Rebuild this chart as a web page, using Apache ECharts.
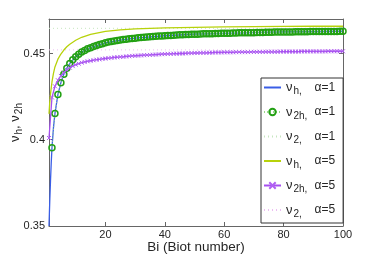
<!DOCTYPE html>
<html>
<head>
<meta charset="utf-8">
<script src="https://cdn.jsdelivr.net/npm/echarts@6/dist/echarts.min.js"></script>
<style>
html,body{margin:0;padding:0;background:#fff;}
#c{width:379px;height:254px;}
</style>
</head>
<body>
<div id="c"></div>
<script>
// ---- data ----
const xTicks = [20, 40, 60, 80, 100];
const yTicks = [0.35, 0.4, 0.45];

// nu_h, alpha = 1 (blue solid line)
const biH1 = [1, 1.25, 1.5, 1.75, 2, 2.5, 3, 4, 5, 6, 7, 8, 10, 12, 15, 20, 25, 30, 40, 50, 60, 70, 80, 90, 100];
const nuH1 = [0.3500, 0.3640, 0.3760, 0.3865, 0.3954, 0.4070, 0.4152, 0.4262, 0.4331, 0.4380, 0.4415, 0.4442, 0.4481, 0.4508, 0.4534, 0.4562, 0.4578, 0.4589, 0.4603, 0.4612, 0.4617, 0.4621, 0.4625, 0.4627, 0.4629];

// nu_2h, alpha = 1 (green circles, Bi = 2..100)
const nu2H1 = [
  0.3954, 0.4152, 0.4262, 0.4331, 0.4380, 0.4415, 0.4442, 0.4464, 0.4481,
  0.4496, 0.4508, 0.4518, 0.4527, 0.4534, 0.4541, 0.4547, 0.4552, 0.4557, 0.4562,
  0.4566, 0.4569, 0.4572, 0.4575, 0.4578, 0.4581, 0.4583, 0.4585, 0.4587, 0.4589,
  0.4591, 0.4593, 0.4594, 0.4596, 0.4597, 0.4599, 0.4600, 0.4601, 0.4602, 0.4603,
  0.4604, 0.4605, 0.4606, 0.4607, 0.4608, 0.4609, 0.4610, 0.4610, 0.4611, 0.4612,
  0.4612, 0.4613, 0.4614, 0.4614, 0.4615, 0.4615, 0.4616, 0.4616, 0.4617, 0.4617,
  0.4618, 0.4618, 0.4619, 0.4619, 0.4620, 0.4620, 0.4620, 0.4621, 0.4621, 0.4621,
  0.4622, 0.4622, 0.4622, 0.4623, 0.4623, 0.4623, 0.4624, 0.4624, 0.4624, 0.4625,
  0.4625, 0.4625, 0.4625, 0.4626, 0.4626, 0.4626, 0.4626, 0.4626, 0.4627, 0.4627,
  0.4627, 0.4627, 0.4628, 0.4628, 0.4628, 0.4628, 0.4628, 0.4628, 0.4629, 0.4629
];
const bi2H1Start = 2;

// nu_2, alpha = 1 and alpha = 5 (horizontal dotted lines)
const biNu2 = [1, 100];
const nu2A1 = [0.4646, 0.4646];
const nu2A5 = [0.4521, 0.4521];

// nu_h, alpha = 5 (yellow-green solid line)
const biH5 = [1, 1.25, 1.5, 2, 2.5, 3, 4, 5, 6, 7, 8, 10, 12, 15, 20, 25, 30, 40, 50, 60, 70, 80, 90, 100];
const nuH5 = [0.4150, 0.4215, 0.4265, 0.4335, 0.4385, 0.4422, 0.4467, 0.4497, 0.4520, 0.4539, 0.4554, 0.4577, 0.4594, 0.4611, 0.4628, 0.4637, 0.4643, 0.4649, 0.4652, 0.4654, 0.4656, 0.4657, 0.4658, 0.4658];

// nu_2h, alpha = 5 (purple with x markers, Bi = 1..100)
const nu2H5 = [
  0.4010, 0.4245, 0.4310, 0.4345, 0.4370, 0.4390, 0.4405, 0.4418, 0.4427, 0.4435,
  0.4441, 0.4447, 0.4451, 0.4455, 0.4458, 0.4461, 0.4464, 0.4466, 0.4469, 0.4471,
  0.4473, 0.4475, 0.4477, 0.4478, 0.4480, 0.4481, 0.4483, 0.4484, 0.4486, 0.4487,
  0.4488, 0.4489, 0.4490, 0.4491, 0.4492, 0.4493, 0.4494, 0.4495, 0.4496, 0.4497,
  0.4498, 0.4498, 0.4499, 0.4499, 0.4500, 0.4500, 0.4501, 0.4502, 0.4502, 0.4503,
  0.4503, 0.4504, 0.4504, 0.4504, 0.4505, 0.4505, 0.4506, 0.4506, 0.4506, 0.4507,
  0.4507, 0.4507, 0.4507, 0.4508, 0.4508, 0.4508, 0.4508, 0.4508, 0.4509, 0.4509,
  0.4509, 0.4509, 0.4509, 0.4510, 0.4510, 0.4510, 0.4510, 0.4510, 0.4511, 0.4511,
  0.4511, 0.4511, 0.4511, 0.4511, 0.4511, 0.4512, 0.4512, 0.4512, 0.4512, 0.4512,
  0.4512, 0.4512, 0.4512, 0.4512, 0.4513, 0.4513, 0.4513, 0.4513, 0.4513, 0.4513
];
const bi2H5Start = 1;

// legend texts
const legendNames = ['vh1', 'v2h1', 'v21', 'vh5', 'v2h5', 'v25'];
const legendSubs = ['h,', '2h,', '2,', 'h,', '2h,', '2,'];
const legendAlpha = ['α=1', 'α=1', 'α=1', 'α=5', 'α=5', 'α=5'];
const legendHasMarker = [false, true, false, false, true, false];

// ---- build ----
const pairs = (xs, ys) => ys.map((y, i) => [xs[i], y]);
const seq = (ys, start) => ys.map((y, i) => [start + i, y]);

const FONT = 'Liberation Sans, Arial, sans-serif';
const TXT = '#262626';
const AX = '#666';

const chart = echarts.init(document.getElementById('c'), null, {renderer: 'canvas'});

const baseAxis = {
  axisLine: {show: true, onZero: false, lineStyle: {color: AX, width: 1}},
  axisTick: {show: true, inside: true, length: 4, lineStyle: {color: AX}},
  splitLine: {show: false},
  axisLabel: {color: TXT, fontSize: 11, fontFamily: FONT}
};

chart.setOption({
  animation: false,
  backgroundColor: '#fff',
  grid: {left: 49, right: 36, top: 19, bottom: 28, outerBoundsMode: 'none'},
  xAxis: [
    Object.assign({}, baseAxis, {
      type: 'value', min: 1, max: 100, position: 'bottom',
      axisTick: Object.assign({}, baseAxis.axisTick, {customValues: xTicks}),
      axisLabel: Object.assign({}, baseAxis.axisLabel, {customValues: xTicks, margin: 3}),
      name: 'Bi (Biot number)', nameLocation: 'middle', nameGap: 14.5, nameMoveOverlap: false,
      nameTextStyle: {color: TXT, fontSize: 13.5, fontFamily: FONT}
    }),
    Object.assign({}, baseAxis, {
      type: 'value', min: 1, max: 100, position: 'top',
      axisTick: Object.assign({}, baseAxis.axisTick, {customValues: xTicks}),
      axisLabel: {show: false}
    })
  ],
  yAxis: [
    Object.assign({}, baseAxis, {
      type: 'value', min: 0.35, max: 0.47, position: 'left',
      axisTick: Object.assign({}, baseAxis.axisTick, {customValues: yTicks}),
      axisLabel: Object.assign({}, baseAxis.axisLabel, {customValues: yTicks, margin: 4}),
      name: '{n|ν}{s|h}{n|, ν}{s|2h}', nameLocation: 'middle', nameGap: 25, nameMoveOverlap: false,
      nameTextStyle: {
        color: TXT, fontFamily: FONT,
        rich: {
          n: {fontSize: 13, fontFamily: FONT, color: TXT},
          s: {fontSize: 10, fontFamily: FONT, color: TXT, padding: [8, 0, 0, 1]}
        }
      }
    }),
    Object.assign({}, baseAxis, {
      type: 'value', min: 0.35, max: 0.47, position: 'right',
      axisTick: Object.assign({}, baseAxis.axisTick, {customValues: yTicks}),
      axisLabel: {show: false}
    })
  ],
  legend: {
    orient: 'vertical', left: 261, top: 78,
    backgroundColor: '#fff', borderColor: '#333', borderWidth: 1, borderRadius: 0,
    padding: [3, 8, 4, 2], itemGap: 9, itemWidth: 17, itemHeight: 8,
    data: legendNames.map((n, i) => legendHasMarker[i] ? {name: n} : {name: n, itemStyle: {opacity: 0}}),
    formatter: function (name) {
      const i = legendNames.indexOf(name);
      return '{n|ν}{s|' + legendSubs[i] + '}{a|' + legendAlpha[i] + '}';
    },
    textStyle: {
      color: TXT, fontFamily: FONT, padding: [0, 0, 0, 0],
      rich: {
        n: {fontSize: 13, fontFamily: FONT, color: TXT},
        s: {fontSize: 10, fontFamily: FONT, color: TXT, padding: [8, 0, 0, 1], width: 21},
        a: {fontSize: 12, fontFamily: FONT, color: TXT}
      }
    }
  },
  series: [
    {
      name: 'vh1', type: 'line', data: pairs(biH1, nuH1), showSymbol: false, symbol: 'none',
      lineStyle: {color: '#3a5ee6', width: 1.3}, itemStyle: {color: '#3a5ee6'}, z: 2
    },
    {
      name: 'v2h1', type: 'line', data: seq(nu2H1, bi2H1Start), symbol: 'circle', symbolSize: 6,
      showSymbol: true,
      lineStyle: {color: '#9ad88c', width: 1, type: [1, 2]},
      itemStyle: {color: 'rgba(0,0,0,0)', borderColor: '#22a012', borderWidth: 1.5}, z: 3
    },
    {
      name: 'v21', type: 'line', data: pairs(biNu2, nu2A1), symbol: 'none',
      lineStyle: {color: '#c6e6bf', width: 1, type: [1, 3]}, itemStyle: {color: '#c6e6bf'}, z: 1
    },
    {
      name: 'vh5', type: 'line', data: pairs(biH5, nuH5), symbol: 'none',
      lineStyle: {color: '#b7d20a', width: 1.3}, itemStyle: {color: '#b7d20a'}, z: 4
    },
    {
      name: 'v2h5', type: 'line', data: seq(nu2H5, bi2H5Start),
      symbol: 'path://M0,0L10,10M10,0L0,10', symbolSize: 4, showSymbol: true,
      lineStyle: {color: '#a64ff0', width: 1.3},
      itemStyle: {color: 'rgba(0,0,0,0)', borderColor: '#b060f2', borderWidth: 1}, z: 4
    },
    {
      name: 'v25', type: 'line', data: pairs(biNu2, nu2A5), symbol: 'none',
      lineStyle: {color: '#ecbdf2', width: 1, type: [1, 3]}, itemStyle: {color: '#ecbdf2'}, z: 1
    }
  ]
});
</script>
</body>
</html>
